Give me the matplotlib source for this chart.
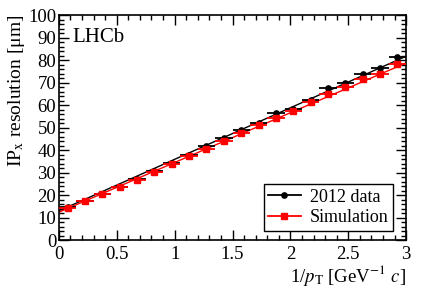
import numpy as np
import matplotlib
matplotlib.use("Agg")
import matplotlib.pyplot as plt
from matplotlib.ticker import MultipleLocator, FormatStrFormatter
from matplotlib.lines import Line2D

plt.rcParams['font.family'] = ['Liberation Serif', 'DejaVu Serif']
plt.rcParams['mathtext.fontset'] = 'stix'

# bin centres in 1/pT [GeV^-1 c], half width of each bin
inv_pt = [0.075, 0.225, 0.375, 0.525, 0.675, 0.825, 0.975, 1.125, 1.275, 1.425,
          1.575, 1.725, 1.875, 2.025, 2.175, 2.325, 2.475, 2.625, 2.775, 2.925]
half_width = 0.075

data_res = [14.8, 17.4, 20.7, 23.8, 27.1, 30.7, 34.3, 37.8, 42.0, 45.4,
            48.9, 52.1, 56.3, 58.4, 62.3, 67.7, 70.0, 73.8, 76.3, 81.3]
sim_res = [14.1, 17.2, 20.4, 23.6, 26.8, 30.2, 33.8, 37.2, 40.3, 44.2,
           47.4, 51.0, 54.2, 57.4, 61.4, 64.9, 68.1, 71.6, 74.0, 78.4]
data_err = 0.6
sim_err = 0.5

# linear fits: intercept, slope
data_fit = (13.0, 22.9)
sim_fit = (12.4, 22.1)
fit_range = [0.0, 3.0]

fig = plt.figure(figsize=(4.27, 2.90), dpi=100)
ax = fig.add_axes([0.138, 0.172, 0.813, 0.776])

fx = np.array(fit_range)
ax.plot(fx, data_fit[0] + data_fit[1]*fx, color='black', lw=1.0, zorder=2)
ax.plot(fx, sim_fit[0] + sim_fit[1]*fx, color='red', lw=1.0, zorder=2)

ax.errorbar(inv_pt, data_res, xerr=half_width, yerr=data_err, fmt='o', color='black',
            ms=3.8, elinewidth=1.3, capsize=0, zorder=3)
ax.errorbar(inv_pt, sim_res, xerr=half_width, yerr=sim_err, fmt='s', color='red',
            ms=4, elinewidth=1.3, capsize=0, zorder=4)

ax.set_xlim(0, 3)
ax.set_ylim(0, 100)
ax.xaxis.set_major_locator(MultipleLocator(0.5))
ax.xaxis.set_minor_locator(MultipleLocator(0.1))
ax.xaxis.set_major_formatter(FormatStrFormatter('%g'))
ax.yaxis.set_major_locator(MultipleLocator(10))
ax.yaxis.set_minor_locator(MultipleLocator(2))
ax.tick_params(which='both', direction='in', top=True, right=True, labelsize=13.5, pad=2)
ax.tick_params(which='major', length=7, width=1)
ax.tick_params(which='minor', length=3.5, width=1)
ax.tick_params(axis='x', pad=4.5)
for s in ax.spines.values():
    s.set_linewidth(1.2)

ax.set_ylabel(r'IP$_{\rm x}$ resolution [μm]', fontsize=14, loc='top', labelpad=1)
ax.set_xlabel(r'1/$p_{\rm T}$ [GeV$^{-1}$ $c$]', fontsize=13.5, loc='right', labelpad=0)

ax.text(0.04, 0.9, 'LHCb', transform=ax.transAxes, fontsize=15, va='center', ha='left')

handles = [Line2D([], [], color='black', marker='o', ms=3.8, lw=1.3),
           Line2D([], [], color='red', marker='s', ms=4, lw=1.3)]
leg = ax.legend(handles, ['2012 data', 'Simulation'], loc='lower right',
                bbox_to_anchor=(0.962, 0.041), fontsize=13,
                frameon=True, fancybox=False, edgecolor='black', borderpad=0.25,
                handlelength=1.8, handletextpad=0.5, labelspacing=0.2,
                borderaxespad=0, framealpha=1)
leg.get_frame().set_linewidth(1.0)

fig.savefig('out.png', dpi=100)
